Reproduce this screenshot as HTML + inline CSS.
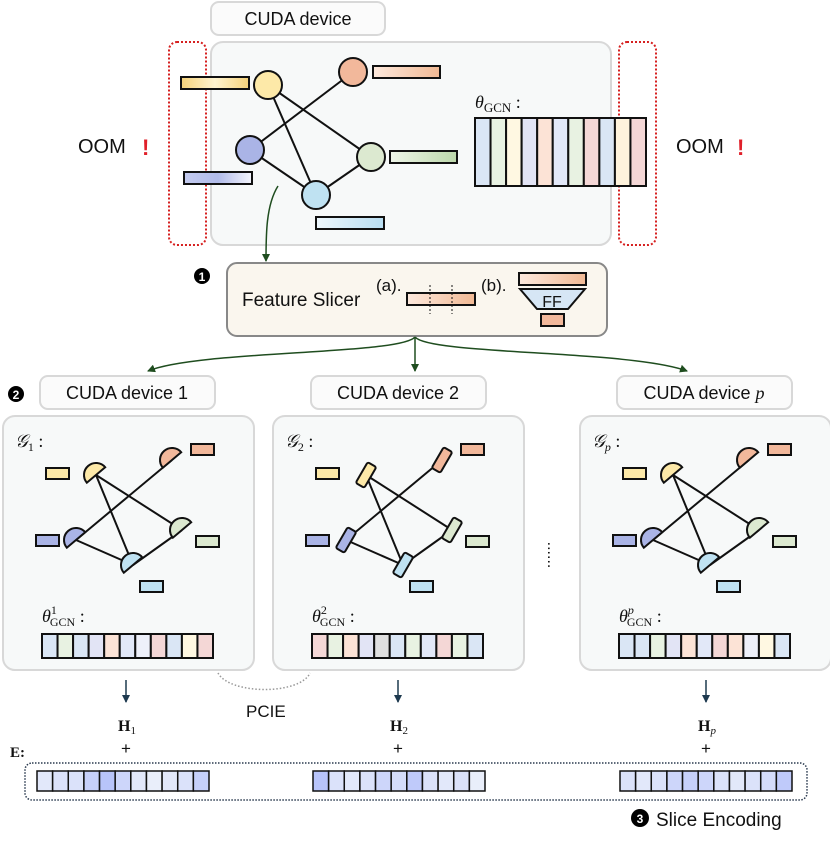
<!DOCTYPE html>
<html><head><meta charset="utf-8"><style>
html,body{margin:0;padding:0;background:#fff}
svg{display:block}
text{font-family:"Liberation Sans","DejaVu Sans",sans-serif;fill:#111}
.serif{font-family:"Liberation Serif","DejaVu Serif",serif}
</style></head><body>
<svg id="s" width="830" height="843" viewBox="0 0 830 843" xmlns="http://www.w3.org/2000/svg">
<defs>
<linearGradient id="gy" x1="0" x2="1"><stop offset="0" stop-color="#f5d27a"/><stop offset=".5" stop-color="#fff4d0"/><stop offset="1" stop-color="#f5d27a"/></linearGradient>
<linearGradient id="gs" x1="0" x2="1"><stop offset="0" stop-color="#fde9dd"/><stop offset="1" stop-color="#f1b994"/></linearGradient>
<linearGradient id="gb" x1="0" x2="1"><stop offset="0" stop-color="#c4cbef"/><stop offset=".5" stop-color="#b1bbea"/><stop offset="1" stop-color="#f4f5fc"/></linearGradient>
<linearGradient id="gg" x1="0" x2="1"><stop offset="0" stop-color="#eef5e8"/><stop offset="1" stop-color="#bcd8ab"/></linearGradient>
<linearGradient id="gl" x1="0" x2="1"><stop offset="0" stop-color="#eef7fc"/><stop offset="1" stop-color="#b8def2"/></linearGradient>
<marker id="ag" markerWidth="8" markerHeight="8" refX="7" refY="4" orient="auto" markerUnits="userSpaceOnUse"><path d="M0,0 L8,4 L0,8 z" fill="#1f4d1f"/></marker>
<marker id="ab" markerWidth="8" markerHeight="8" refX="7" refY="4" orient="auto" markerUnits="userSpaceOnUse"><path d="M0,0 L8,4 L0,8 z" fill="#1e3a4f"/></marker>
</defs>

<rect x="211" y="2" width="174" height="33" rx="8" fill="#fbfbfb" stroke="#d8d8d8" stroke-width="2"/>
<text x="298" y="25" font-size="18" text-anchor="middle">CUDA device</text>
<rect x="211" y="42" width="400" height="203" rx="12" fill="#f7f9f9" stroke="#d8d8d8" stroke-width="2"/>
<rect x="169" y="42" width="37" height="203" rx="8" fill="none" stroke="#d62020" stroke-width="2" stroke-dasharray="2,2"/>
<rect x="619" y="42" width="37" height="203" rx="8" fill="none" stroke="#d62020" stroke-width="2" stroke-dasharray="2,2"/>
<text x="78" y="153" font-size="20">OOM</text><text x="142" y="155" font-size="22" font-weight="bold" style="fill:#e0202a">!</text>
<text x="676" y="153" font-size="20">OOM</text><text x="737" y="155" font-size="22" font-weight="bold" style="fill:#e0202a">!</text>
<g stroke="#111" stroke-width="2">
<line x1="268" y1="85" x2="371" y2="157"/><line x1="268" y1="85" x2="316" y2="195"/><line x1="250" y1="150" x2="353" y2="72"/><line x1="250" y1="150" x2="316" y2="195"/><line x1="371" y1="157" x2="316" y2="195"/>
</g>
<g stroke="#111" stroke-width="2">
<rect x="181" y="77" width="68" height="12" fill="url(#gy)"/>
<rect x="373" y="66" width="67" height="12" fill="url(#gs)"/>
<rect x="184" y="172" width="68" height="12" fill="url(#gb)"/>
<rect x="390" y="151" width="67" height="12" fill="url(#gg)"/>
<rect x="316" y="217" width="68" height="12" fill="url(#gl)"/>
<circle cx="268" cy="85" r="14" fill="#fde9a8"/><circle cx="353" cy="72" r="14" fill="#f2b89b"/>
<circle cx="250" cy="150" r="14" fill="#aab4e6"/><circle cx="371" cy="157" r="14" fill="#dce9d0"/><circle cx="316" cy="195" r="14" fill="#bfe2f2"/>
</g>
<text x="475" y="108" font-size="18" class="serif" font-style="italic">θ<tspan font-size="13" font-style="normal" dy="4">GCN</tspan><tspan dy="-4" font-style="normal"> :</tspan></text>
<g id="bigp"></g>
<path d="M278,186 C266,205 266,235 266,261" fill="none" stroke="#1f4d1f" stroke-width="1.5" marker-end="url(#ag)"/>

<circle cx="202" cy="276" r="8" fill="#000"/><text x="202" y="281" font-size="12" font-weight="bold" text-anchor="middle" style="fill:#fff">1</text>
<rect x="227" y="263" width="380" height="73" rx="10" fill="#faf6ee" stroke="#888" stroke-width="2"/>
<text x="242" y="306" font-size="19">Feature Slicer</text>
<text x="376" y="291" font-size="17">(a).</text>
<rect x="407" y="293" width="68" height="12" fill="url(#gs)" stroke="#111" stroke-width="2"/>
<line x1="430" y1="285" x2="430" y2="314" stroke="#111" stroke-dasharray="2,2"/><line x1="452" y1="285" x2="452" y2="314" stroke="#111" stroke-dasharray="2,2"/>
<text x="481" y="291" font-size="17">(b).</text>
<rect x="519" y="273" width="67" height="12" fill="url(#gs)" stroke="#111" stroke-width="2"/>
<path d="M520,289 L585,289 L568,309 L537,309 Z" fill="#d6e6f5" stroke="#111" stroke-width="2"/>
<text x="552" y="307" font-size="16" text-anchor="middle">FF</text>
<rect x="541" y="314" width="23" height="12" fill="#f2b89b" stroke="#111" stroke-width="2"/>
<g fill="none" stroke="#1f4d1f" stroke-width="1.5">
<path d="M415,337 C400,355 200,350 148,371" marker-end="url(#ag)"/>
<path d="M415,337 L415,371" marker-end="url(#ag)"/>
<path d="M415,337 C430,355 630,350 687,371" marker-end="url(#ag)"/>
</g>
<circle cx="16" cy="394" r="8" fill="#000"/><text x="16" y="399" font-size="12" font-weight="bold" text-anchor="middle" style="fill:#fff">2</text>
<g id="panels"></g>
<text x="553" y="560" font-size="16" text-anchor="middle" transform="rotate(90 553 555)">......</text>

<path d="M218,673 C230,695 300,695 310,673" fill="none" stroke="#999" stroke-width="1.5" stroke-dasharray="1.5,2"/>
<text x="246" y="717" font-size="17">PCIE</text>
<text x="10" y="757" font-size="15" font-weight="bold" class="serif">E:</text>
<rect x="25" y="763" width="782" height="37" rx="7" fill="none" stroke="#2a3a4f" stroke-width="1.5" stroke-dasharray="1.5,1.5"/>
<g id="bottom"></g>
<circle cx="640" cy="818" r="9" fill="#000"/><text x="640" y="823" font-size="12" font-weight="bold" text-anchor="middle" style="fill:#fff">3</text>
<text x="656" y="826" font-size="19">Slice Encoding</text>
</svg>
<script>
var NS="http://www.w3.org/2000/svg";
function el(p,t,a,txt){var e=document.createElementNS(NS,t);for(var k in a)e.setAttribute(k,a[k]);if(txt!=null)e.textContent=txt;p.appendChild(e);return e;}
var bigc=["#dae6f5","#e8f2e2","#fff8e2","#e2e4f5","#fce3d6","#e2e8f8","#e8f2e2","#f4d7d6","#dae6f5","#fff3dc","#f4d7d6"];
var g=document.getElementById("bigp");var w=171/11;
for(var i=0;i<11;i++)el(g,"rect",{x:475+i*w,y:118,width:w,height:68,fill:bigc[i],stroke:"#111","stroke-width":2});
var P=document.getElementById("panels");
var offs=[0,270,577],labels=["1","2","p"],lx=[40,311,617];
var pc=[["#dae6f5","#e8f2e2","#dae6f5","#e2e4f5","#fce3d6","#e2e8f8","#eef0fa","#f4d7d6","#dae6f5","#fff8e2","#f4d7d6"],
["#f4d7d6","#e8f2e2","#fce3d6","#e2e4f5","#e0e0e0","#dae6f5","#e8f2e2","#e2e8f8","#f4d7d6","#e8f2e2","#dae6f5"],
["#dae6f5","#dae6f5","#e8f2e2","#e2e4f5","#fce3d6","#e2e8f8","#f4d7d6","#fce3d6","#eef0fa","#fff8e2","#dae6f5"]];
var nodes=[[96,475,"#fde9a8"],[172,460,"#f2b89b"],[76,540,"#aab4e6"],[182,530,"#dce9d0"],[133,565,"#bfe2f2"]];
var feats=[[46,468,"#fde9a8"],[191,444,"#f2b89b"],[36,535,"#aab4e6"],[196,536,"#dce9d0"],[140,581,"#bfe2f2"]];
for(var k=0;k<3;k++){var o=offs[k];
 el(P,"rect",{x:lx[k],y:376,width:175,height:33,rx:8,fill:"#fbfbfb",stroke:"#d8d8d8","stroke-width":2});
 var t=el(P,"text",{x:lx[k]+87,y:399,"font-size":18,"text-anchor":"middle"},"CUDA device ");
 if(k<2)el(t,"tspan",{},labels[k]);else el(t,"tspan",{"font-family":"Liberation Serif","font-style":"italic"},"p");
 el(P,"rect",{x:3+o,y:416,width:251,height:254,rx:12,fill:"#f7f9f9",stroke:"#d8d8d8","stroke-width":2});
 var gl=el(P,"text",{x:15+o,y:447,"font-size":18,"class":"serif","font-style":"italic"},"𝒢");
 el(gl,"tspan",{"font-size":12,dy:4,"font-style":k==2?"italic":"normal"},labels[k]);el(gl,"tspan",{dy:-4,"font-style":"normal"}," :");
 var ed=[[0,3],[0,4],[2,1],[2,4],[3,4]];
 ed.forEach(function(e){var a=nodes[e[0]],b=nodes[e[1]];el(P,"line",{x1:a[0]+o,y1:a[1],x2:b[0]+o,y2:b[1],stroke:"#111","stroke-width":2});});
 feats.forEach(function(f){el(P,"rect",{x:f[0]+o,y:f[1],width:23,height:11,fill:f[2],stroke:"#111","stroke-width":2});});
 nodes.forEach(function(n){
  if(k==1)el(P,"rect",{x:-5,y:-12,width:10,height:24,rx:2,fill:n[2],stroke:"#111","stroke-width":2,transform:"translate("+(n[0]+o)+","+n[1]+") rotate(30)"});
  else el(P,"path",{d:"M-12,0 A12,12 0 0 1 12,0 Z",fill:n[2],stroke:"#111","stroke-width":2,transform:"translate("+(n[0]+o)+","+n[1]+") rotate(-40)"});
 });
 var th=el(P,"text",{x:42+o,y:622,"font-size":18,"class":"serif","font-style":"italic"},"θ");
 el(th,"tspan",{"font-size":12,dy:-8,"font-style":k==2?"italic":"normal"},labels[k]);
 el(th,"tspan",{"font-size":12,dy:12,dx:-7,"font-style":"normal"},"GCN");el(th,"tspan",{dy:-4,"font-style":"normal"}," :");
 for(var i=0;i<11;i++)el(P,"rect",{x:42+o+i*w,y:634,width:w,height:24,fill:pc[k][i],stroke:"#111","stroke-width":2});
}
var B=document.getElementById("bottom");var ax=[126,398,706],bx=[37,313,620];
var bc=[[.2,.3,.3,.6,.8,.5,.2,.1,.2,.3,.6],[.8,.3,.2,.3,.5,.4,.7,.3,.2,.3,.1],[.3,.2,.3,.5,.6,.5,.3,.2,.3,.4,.7]];
for(var k=0;k<3;k++){
 el(B,"line",{x1:ax[k],y1:680,x2:ax[k],y2:702,stroke:"#1e3a4f","stroke-width":1.5,"marker-end":"url(#ab)"});
 var h=el(B,"text",{x:ax[k]-8,y:731,"font-size":16,"font-weight":"bold","class":"serif"},"H");
 el(h,"tspan",{"font-size":11,dy:3,"font-weight":"normal","font-style":k==2?"italic":"normal"},labels[k]);
 el(B,"text",{x:ax[k],y:754,"font-size":17,"text-anchor":"middle"},"+");
 var ww=172/11;
 for(var i=0;i<11;i++){var v=bc[k][i];var r=Math.round(240-v*70),gg=Math.round(244-v*60);
  el(B,"rect",{x:bx[k]+i*ww,y:771,width:ww,height:20,fill:"rgb("+r+","+gg+",250)",stroke:"#111","stroke-width":1.5});}
}
</script>
</body></html>
